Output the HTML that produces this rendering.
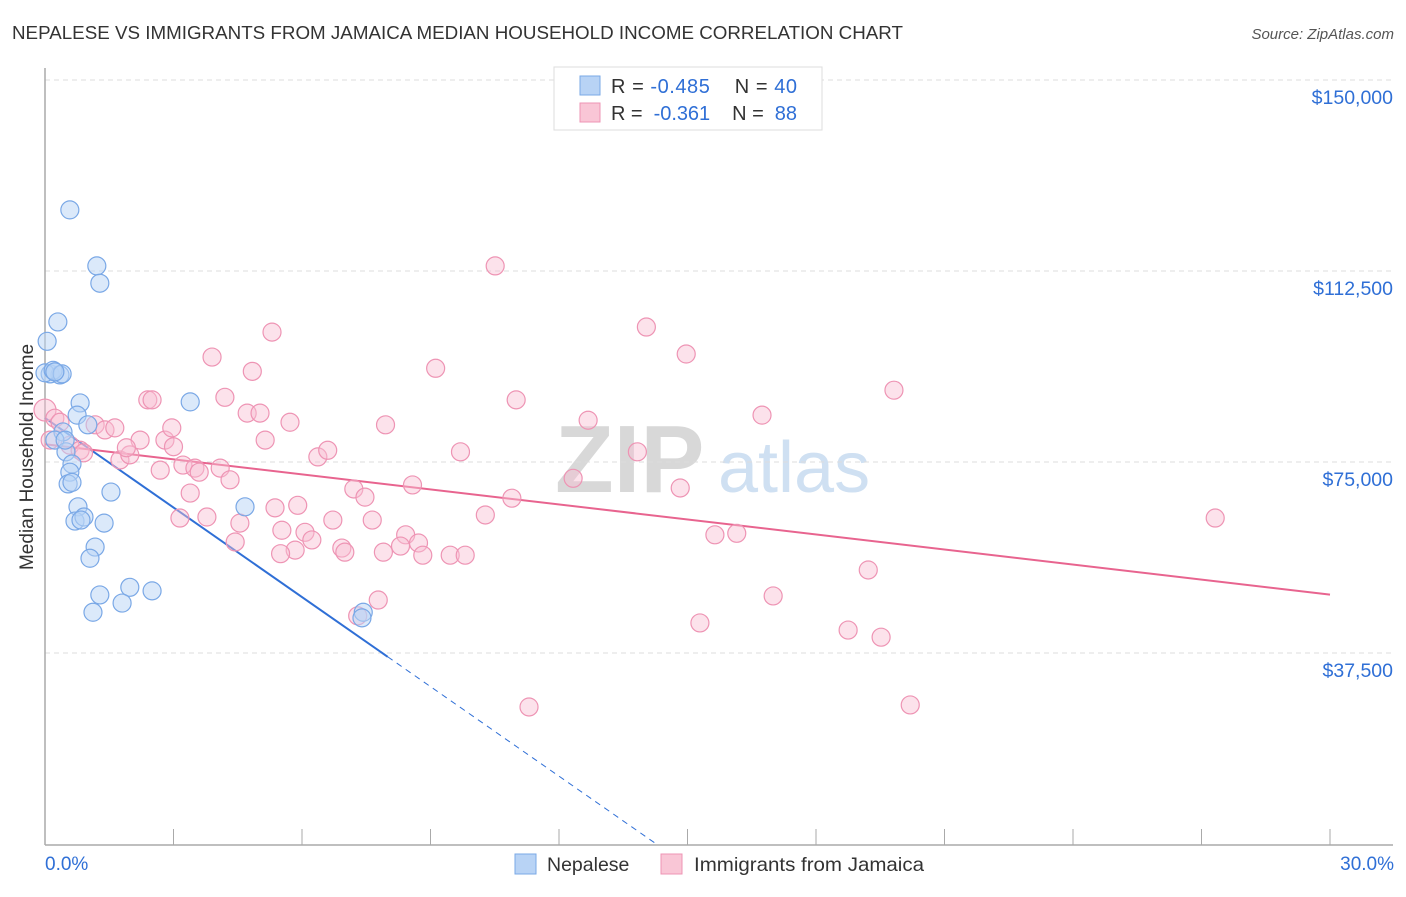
<!DOCTYPE html>
<html><head><meta charset="utf-8"><style>
body{margin:0;background:#fff;font-family:"Liberation Sans",sans-serif;}
svg text{font-family:"Liberation Sans",sans-serif;}
</style></head><body>
<svg id="chart" width="1406" height="892">
<text x="12" y="39" font-size="18" fill="#333" textLength="891" lengthAdjust="spacingAndGlyphs">NEPALESE VS IMMIGRANTS FROM JAMAICA MEDIAN HOUSEHOLD INCOME CORRELATION CHART</text>
<text x="1394" y="39" font-size="15" fill="#555" text-anchor="end" font-style="italic">Source: ZipAtlas.com</text>
<text x="33" y="457" font-size="19" fill="#333" text-anchor="middle" transform="rotate(-90 33 457)">Median Household Income</text>
<text x="555" y="492" font-size="96" fill="#d8d8d8" font-family="Liberation Serif" font-weight="bold">ZIP</text>
<text x="718" y="492" font-size="72" fill="#cfe0f2">atlas</text>
<g id="grid"></g><g id="axes"></g><g id="trend"></g><g id="pts"></g>
<g>
<rect x="554" y="67" width="268" height="63" fill="#fff" stroke="#ddd"/>
<rect x="580" y="76" width="20" height="19" fill="#b8d3f5" stroke="#7aa8e6"/>
<rect x="580" y="103" width="20" height="19" fill="#f9c6d6" stroke="#ee94b4"/>
<text x="611" y="93" font-size="20" fill="#333" textLength="186" lengthAdjust="spacing">R = <tspan fill="#2f6fd6">-0.485</tspan>&#160;&#160;&#160;&#160;N = <tspan fill="#2f6fd6">40</tspan></text>
<text x="611" y="120" font-size="20" fill="#333" textLength="186" lengthAdjust="spacing">R = &#160;<tspan fill="#2f6fd6">-0.361</tspan>&#160;&#160;&#160;&#160;N = &#160;<tspan fill="#2f6fd6">88</tspan></text>
</g>
<g>
<rect x="515" y="854" width="21" height="20" fill="#b8d3f5" stroke="#7aa8e6"/>
<text x="547" y="871" font-size="19.5" fill="#333">Nepalese</text>
<rect x="661" y="854" width="21" height="20" fill="#f9c6d6" stroke="#ee94b4"/>
<text x="694" y="871" font-size="19.5" fill="#333" textLength="230" lengthAdjust="spacingAndGlyphs">Immigrants from Jamaica</text>
</g>
</svg>
<script>
const yTicks=[37500,75000,112500,150000];
const yTickLabels=["$37,500","$75,000","$112,500","$150,000"];
const xTickLabels=["0.0%","30.0%"];
const nepX=[0.05,0.30,0.58,1.21,1.28,0.12,0.23,0.35,0.0,0.19,0.40,0.82,0.75,1.00,0.42,0.23,0.49,0.63,0.58,0.54,1.54,0.77,0.70,0.91,0.84,1.38,1.17,1.05,1.98,2.50,1.28,1.80,1.12,3.39,4.67,7.43,7.40,0.23,0.47,0.63];
const nepY=[98700,102500,124500,113500,110100,92300,92700,92100,92500,93000,92300,86600,84200,82300,80900,79300,77000,74600,73000,70700,69100,66200,63400,64200,63600,63000,58300,56100,50400,49700,48900,47300,45500,86800,66200,45500,44400,92700,79300,71000];
const jamX=[0,0.23,0.35,0.58,0.82,1.17,1.4,1.63,1.75,1.98,2.22,2.4,2.5,2.8,2.96,2.69,3.22,3.5,3.6,3.39,3.15,3.78,3.9,4.09,4.2,4.32,4.44,4.55,4.72,4.84,5.02,5.14,5.3,5.37,5.53,5.72,5.84,5.9,6.07,6.23,6.37,6.6,6.72,6.93,7.0,7.21,7.47,7.64,7.78,7.9,7.95,8.42,8.58,8.72,8.82,9.12,9.46,9.7,9.81,10.28,10.51,10.9,11.0,11.3,12.33,12.68,13.83,14.04,14.83,14.97,15.29,15.64,16.15,16.74,17.0,18.75,19.22,19.52,19.82,20.2,27.32,0.12,0.9,1.9,3.0,5.5,8.3,7.3];
const jamY=[85200,83600,82800,78300,77300,82300,81300,81700,75400,76400,79300,87200,87200,79300,81700,73400,74400,73800,73000,68900,64000,64200,95600,73800,87700,71500,59300,63000,84600,92800,84600,79300,100500,66000,61600,82800,57700,66500,61200,59700,76000,77300,63600,58100,57300,69700,68100,63600,47900,57300,82300,60700,70500,59100,56700,93400,56700,77000,56700,64600,113500,67900,87200,26900,71800,83200,77000,101500,69900,96200,43400,60700,61000,84200,48700,42000,53800,40600,89100,27300,64000,79300,76800,77800,78000,57000,58500,44800];
const X0=45,X1=1330,Y0=844,pxPerY=191/37500;
const sx=v=>X0+(v/30)*(X1-X0), sy=v=>Y0-v*pxPerY;
const NS='http://www.w3.org/2000/svg';
function mk(tag,attrs,parent){const e=document.createElementNS(NS,tag);for(const k in attrs)e.setAttribute(k,attrs[k]);document.getElementById(parent).appendChild(e);return e;}
yTicks.forEach((t,i)=>{
 const l=mk('line',{x1:X0,x2:1393,y1:sy(t),y2:sy(t),stroke:'#ddd','stroke-dasharray':'5,4'},'grid');
 
 
 const tx=mk('text',{x:1393,y:sy(t)+24,'font-size':19.5,fill:'#2f6fd6','text-anchor':'end'},'grid');
 tx.textContent=yTickLabels[i];
 
 
});
const ya=mk('line',{x1:X0,x2:X0,y1:68,y2:845,stroke:'#aaa','stroke-width':1.5},'axes');


const xa=mk('line',{x1:X0,x2:1393,y1:845,y2:845,stroke:'#aaa','stroke-width':1.5},'axes');


for(let i=1;i<=10;i++){
 const t=mk('line',{x1:sx(i*3),x2:sx(i*3),y1:829,y2:845,stroke:'#aaa'},'axes');
 
 
}
[[0,'start',45],[30,'end',1394]].forEach((d,i)=>{
 const t=mk('text',{x:d[2],y:870,'font-size':19,fill:'#2f6fd6','text-anchor':d[1]},'axes');
 t.textContent=xTickLabels[i];
 
 
});
function fit(xs,ys){const n=xs.length;let mx=0,my=0;for(let i=0;i<n;i++){mx+=xs[i];my+=ys[i];}mx/=n;my/=n;let a=0,b=0;for(let i=0;i<n;i++){a+=(xs[i]-mx)*(ys[i]-my);b+=(xs[i]-mx)**2;}const s=a/b;return [s,my-s*mx];}
const [bs,bi]=fit(nepX,nepY),[ps,pi]=fit(jamX,jamY);
const bl=mk('line',{x1:sx(0),y1:sy(bi),x2:sx(8),y2:sy(bi+bs*8),stroke:'#2f6fd6','stroke-width':2},'trend');


const xz=-bi/bs;
const bd=mk('line',{x1:sx(8),y1:sy(bi+bs*8),x2:sx(xz),y2:sy(0),stroke:'#2f6fd6','stroke-width':1,'stroke-dasharray':'6,5'},'trend');


const pl=mk('line',{x1:sx(0),y1:sy(pi),x2:sx(30),y2:sy(pi+ps*30),stroke:'#e8648f','stroke-width':2},'trend');


jamX.forEach((x,i)=>{
 const c=mk('circle',{cx:sx(x),cy:sy(jamY[i]),r:i==0?11:9,fill:'rgba(249,190,210,0.45)',stroke:'#ee94b4','stroke-width':1.2},'pts');
 
 
});
nepX.forEach((x,i)=>{
 const c=mk('circle',{cx:sx(x),cy:sy(nepY[i]),r:9,fill:'rgba(184,211,245,0.5)',stroke:'#7aa8e6','stroke-width':1.2},'pts');
 
 
});
</script>
</body></html>
